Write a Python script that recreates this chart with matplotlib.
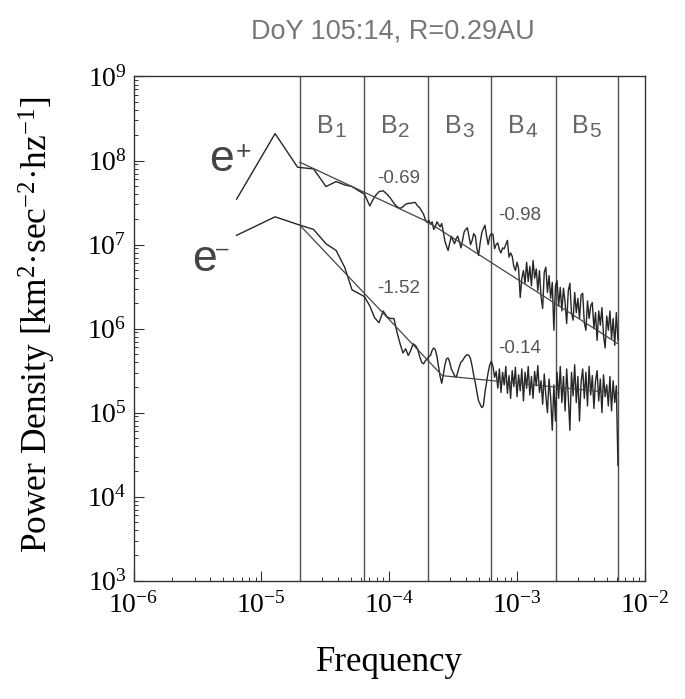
import numpy as np
import matplotlib
matplotlib.use("Agg")
import matplotlib.pyplot as plt
from matplotlib.ticker import LogLocator, NullFormatter

plt.rcParams['font.family'] = ['Liberation Serif', 'DejaVu Serif']
plt.rcParams['mathtext.fontset'] = 'custom'
plt.rcParams['mathtext.rm'] = 'Liberation Serif'

# spectrum bins: f = k * df (first 30 bins one by one, then a thinned set up to bin 960)
df = 6.4e-6
bins_low = np.arange(1, 31)
bins_high = np.geomspace(31, 960, 120)
freq = np.concatenate([bins_low, bins_high]) * df

# log10 of power density
e_plus_log = [
    7.54, 8.32, 7.92, 7.90, 7.69, 7.75, 7.71, 7.69, 7.64, 7.60,
    7.46, 7.57, 7.63, 7.64, 7.60, 7.55, 7.49, 7.45, 7.43, 7.45,
    7.48, 7.49, 7.49, 7.50, 7.50, 7.46, 7.44, 7.40, 7.36, 7.29,
    # high-frequency part
    7.26, 7.29, 7.24, 7.27, 7.18, 7.21, 7.27, 7.24, 7.21, 7.25,
    7.15, 7.04, 6.98, 6.93, 7.02, 7.10, 7.05, 7.01, 7.07, 7.10,
    7.04, 6.96, 7.05, 7.15, 7.18, 7.20, 7.10, 7.00, 7.05, 7.13,
    7.10, 6.95, 6.87, 7.02, 7.14, 7.19, 7.23, 7.10, 7.00, 7.10,
    7.13, 7.12, 6.95, 7.00, 7.02, 6.94, 6.90, 6.96, 6.95, 7.00,
    7.05, 6.85, 6.90, 6.86, 6.74, 6.69, 6.79, 6.71, 6.37, 6.60,
    6.69, 6.54, 6.79, 6.56, 6.74, 6.51, 6.81, 6.60, 6.71, 6.45,
    6.69, 6.38, 6.24, 6.67, 6.73, 6.43, 6.63, 6.36, 6.55, 5.98,
    6.51, 6.57, 6.27, 6.49, 6.21, 6.48, 6.31, 6.06, 6.45, 6.54,
    6.19, 6.10, 6.43, 6.19, 6.36, 6.12, 6.40, 6.42, 6.07, 5.98,
    6.33, 6.12, 6.27, 6.31, 6.00, 6.19, 5.86, 6.21, 6.04, 6.25,
    5.92, 5.77, 6.15, 5.98, 6.21, 5.88, 6.12, 5.80, 6.19, 5.86,
]
e_minus_log = [
    7.11, 7.33, 7.24, 7.18, 7.01, 6.93, 6.73, 6.46, 6.42, 6.38,
    6.27, 6.13, 6.07, 6.21, 6.14, 6.12, 6.12, 5.95, 5.82, 5.71,
    5.76, 5.68, 5.74, 5.82, 5.80, 5.76, 5.67, 5.60, 5.58, 5.62,
    # high-frequency part
    5.64, 5.67, 5.68, 5.74, 5.77, 5.75, 5.67, 5.55, 5.43, 5.35,
    5.45, 5.57, 5.64, 5.65, 5.60, 5.52, 5.48, 5.44, 5.42, 5.48,
    5.55, 5.60, 5.62, 5.65, 5.68, 5.69, 5.68, 5.64, 5.55, 5.44,
    5.35, 5.24, 5.14, 5.10, 5.06, 5.08, 5.24, 5.36, 5.48, 5.57,
    5.61, 5.55, 5.42, 5.49, 5.29, 5.52, 5.24, 5.48, 5.33, 5.55,
    5.23, 5.44, 5.17, 5.50, 5.31, 5.54, 5.19, 5.45, 5.26, 5.52,
    5.14, 5.48, 5.29, 5.55, 5.21, 5.43, 5.17, 5.49, 5.32, 5.56,
    5.24, 5.38, 5.10, 5.46, 5.20, 5.00, 5.40, 5.18, 4.79, 5.33,
    4.90, 5.48, 5.17, 5.55, 5.12, 5.43, 5.02, 5.52, 5.19, 4.79,
    5.48, 5.20, 5.57, 5.12, 5.43, 4.90, 5.36, 5.52, 5.17, 5.48,
    5.08, 5.55, 5.21, 5.44, 5.05, 5.38, 5.50, 5.14, 5.40, 5.00,
    5.45, 5.19, 5.33, 5.08, 5.43, 5.02, 5.38, 5.12, 5.32, 4.37,
]

# power-law fits (vertices of the broken lines)
fit_plus_f = [2.0e-5, 2.0e-4, 6.15e-3]
fit_plus_log = [7.98, 7.27, 5.82]
fit_minus_f = [2.0e-5, 2.6e-4, 6.15e-3]
fit_minus_log = [7.23, 5.44, 5.23]

band_edges = [2.0e-5, 6.3e-5, 2.0e-4, 6.3e-4, 2.0e-3, 6.15e-3]
band_names = ['1', '2', '3', '4', '5']

slope_text = ['-0.69', '-1.52', '-0.98', '-0.14']
slope_f = [8.0e-5, 8.0e-5, 7.1e-4, 7.1e-4]
slope_log = [7.73, 6.42, 7.29, 5.71]

x_ticks = [1e-6, 1e-5, 1e-4, 1e-3, 1e-2]
y_ticks = [1e3, 1e4, 1e5, 1e6, 1e7, 1e8, 1e9]

fig = plt.figure(figsize=(6.85, 6.99), dpi=100)
ax = fig.add_axes([0.1949, 0.1692, 0.7467, 0.7214])
ax.set_xscale('log')
ax.set_yscale('log')
ax.set_xlim(1e-6, 1e-2)
ax.set_ylim(1e3, 1e9)

for edge in band_edges:
    ax.axvline(edge, color='#505050', lw=1.0)

ax.plot(freq, 10 ** np.array(e_plus_log), color='#262626', lw=1.0)
ax.plot(freq, 10 ** np.array(e_minus_log), color='#262626', lw=1.0)
ax.plot(fit_plus_f, 10 ** np.array(fit_plus_log), color='#444444', lw=0.9)
ax.plot(fit_minus_f, 10 ** np.array(fit_minus_log), color='#444444', lw=0.9)

sans = 'Liberation Sans'
for i, name in enumerate(band_names):
    xc = np.sqrt(band_edges[i] * band_edges[i + 1])
    ax.annotate('B', xy=(xc, 10 ** 8.33), xytext=(1.1, 0), textcoords='offset points',
                ha='right', va='baseline', fontsize=18, color='#666666', family=sans)
    ax.annotate(name, xy=(xc, 10 ** 8.33), xytext=(1.6, -3.2), textcoords='offset points',
                ha='left', va='baseline', fontsize=15, color='#666666', family=sans)

for txt, f, lg in zip(slope_text, slope_f, slope_log):
    ax.text(f, 10 ** lg, txt, ha='left', va='baseline', fontsize=13.5,
            color='#555555', family=sans)

# e+ / e- labels
ax.text(3.9e-6, 10 ** 7.88, 'e', fontsize=32, family=sans, color='#444444',
        ha='left', va='baseline')
ax.annotate('+', xy=(3.9e-6, 10 ** 7.88), xytext=(19.4, 13.3), textcoords='offset points',
            fontsize=19, family=sans, color='#444444', ha='left', va='center')
ax.text(2.88e-6, 10 ** 6.69, 'e', fontsize=32, family=sans, color='#444444',
        ha='left', va='baseline')
ax.annotate('\u2013', xy=(2.88e-6, 10 ** 6.69), xytext=(17.0, 15.5), textcoords='offset points',
            fontsize=16, family=sans, color='#444444', ha='left', va='center')

ax.set_xticks(x_ticks)
ax.set_yticks(y_ticks)
ax.xaxis.set_minor_locator(LogLocator(base=10, subs=np.arange(2, 10), numticks=100))
ax.yaxis.set_minor_locator(LogLocator(base=10, subs=np.arange(2, 10), numticks=100))
ax.xaxis.set_minor_formatter(NullFormatter())
ax.yaxis.set_minor_formatter(NullFormatter())

ax.tick_params(which='both', direction='in', top=False, right=False, color='#333333')
ax.tick_params(which='major', length=7, width=0.8, labelsize=20)
ax.tick_params(axis='x', which='major', pad=8)
ax.tick_params(axis='y', which='major', pad=5)
ax.tick_params(which='minor', length=3, width=0.7)
for sp in ax.spines.values():
    sp.set_color('#333333')
    sp.set_linewidth(1.0)

fig.text(393 / 685, 1 - 39 / 699, 'DoY 105:14, R=0.29AU', ha='center', va='baseline',
         fontsize=19.5, color='#777777', family=sans)
fig.text(37 / 685, 1 - 325 / 699,
         'Power Density [km$\\mathregular{^{2}}$\u00b7sec$\\mathregular{^{-2}}$\u00b7hz$\\mathregular{^{-1}}$]',
         rotation=90, ha='center', va='center', fontsize=25.5)
fig.text(389 / 685, 1 - 671 / 699, 'Frequency', ha='center', va='baseline', fontsize=25)

fig.savefig('out.png', dpi=100)
